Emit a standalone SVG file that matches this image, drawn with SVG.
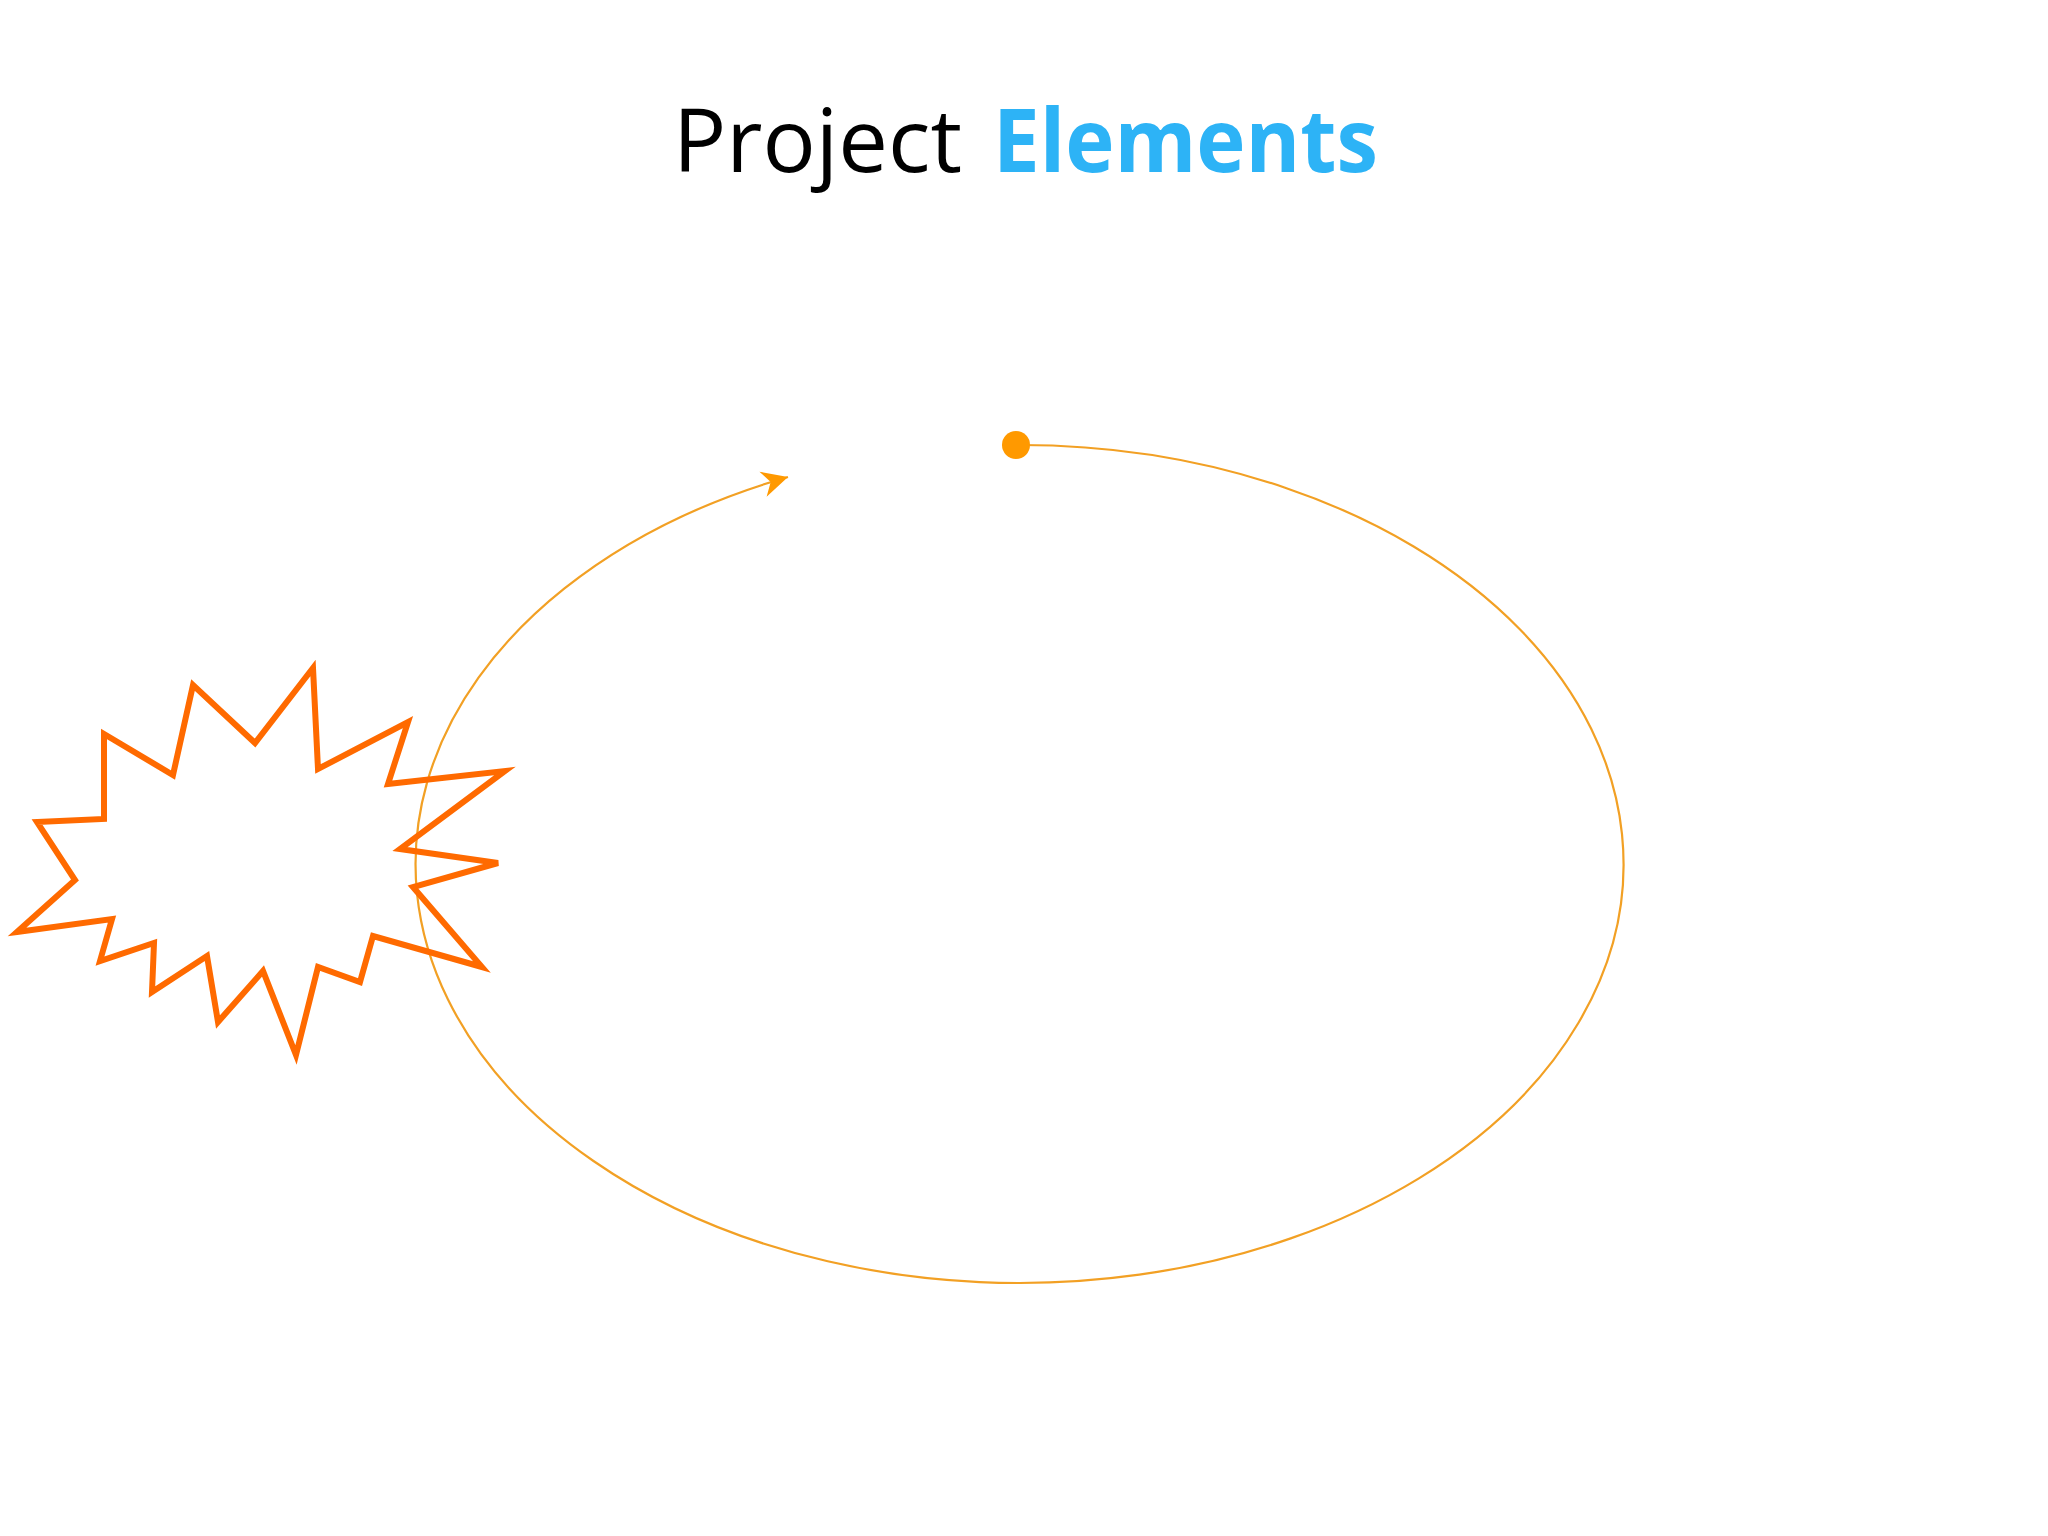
<svg xmlns="http://www.w3.org/2000/svg" width="2048" height="1536" viewBox="0 0 2048 1536">
<style>
.title{font-family:"Open Sans","Liberation Sans",sans-serif;font-size:88px}
.burst{fill:none;stroke:#FF6A00;stroke-width:6;stroke-linejoin:miter}
.loop{fill:none;stroke:#F2A024;stroke-width:2.2}
</style>
<defs>
<marker id="arr" markerUnits="userSpaceOnUse" viewBox="-30 -16 34 32" refX="0" refY="0" markerWidth="34" markerHeight="32" orient="auto">
<path d="M0,0 L-26,-13 L-18,0 L-26,13 Z" fill="#FF9900"/>
</marker>
</defs>
<rect width="2048" height="1536" fill="#ffffff"/>
<g id="title">
<text class="title" x="673" y="172" fill="#000000" textLength="289" lengthAdjust="spacingAndGlyphs">Project</text>
<text class="title" x="993" y="172" fill="#2DB3F6" font-weight="bold" textLength="385" lengthAdjust="spacingAndGlyphs">Elements</text>
</g>
<g id="connectors">
<path class="loop" d="M1016,445 A604,419 0 1 1 788,477" marker-end="url(#arr)"/>
</g>
<g id="start-dot">
<circle cx="1016" cy="445" r="14" fill="#FF9900"/>
</g>
<g id="burst">
<polygon class="burst" points="17,932 112,919 100,961 154,943 152,992 207,956 218,1022 263,971 296,1055 318,967 360,982 373,936 482,967 413,887 498,863 400,849 505,771 388,784 408,722 318,769 313,668 255,743 193,685 173,775 104,734 104,819 37,822 75,880"/>
</g>
</svg>
